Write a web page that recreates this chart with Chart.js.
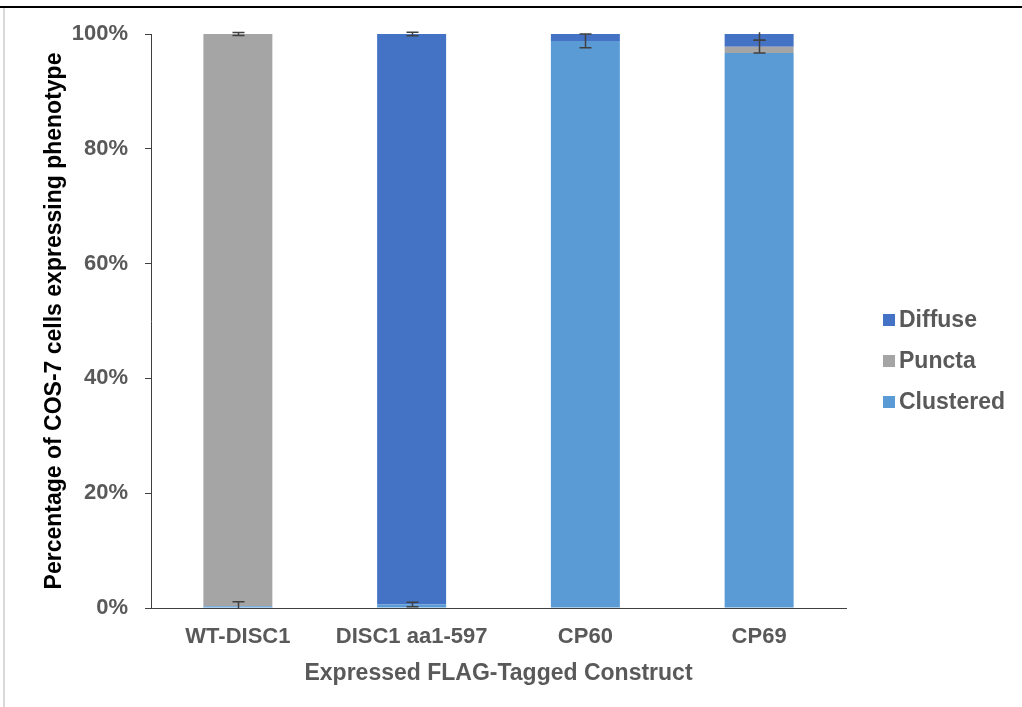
<!DOCTYPE html>
<html>
<head>
<meta charset="utf-8">
<script src="https://cdn.jsdelivr.net/npm/chart.js@4.4.0/dist/chart.umd.min.js"></script>
<style>
  html, body { margin: 0; padding: 0; background: #ffffff; overflow: hidden; }
  #wrap { width: 1022px; height: 707px; position: relative; }
  canvas { display: block; }
</style>
</head>
<body>
<div id="wrap"><canvas id="chart" width="1022" height="707"></canvas></div>
<script>
// Constructs on the x axis
const categories = ['WT-DISC1', 'DISC1 aa1-597', 'CP60', 'CP69'];

// Phenotype percentages per construct (stacked bottom to top)
const clustered = [0.3, 0.6, 98.8, 96.7];
const puncta    = [99.7, 0, 0, 1.1];
const diffuse   = [0, 99.4, 1.2, 2.2];

// Error magnitudes (percentage points), drawn at the top of each segment
const clusteredErr = [0.8, 0.4, 1.2, 0];
const punctaErr    = [0.25, 0, 0, 1.1];
const diffuseErr   = [0, 0.3, 0, 1.1];

// Y axis tick values
const yTicks = [0, 20, 40, 60, 80, 100];

const seriesNames = ['Clustered', 'Puncta', 'Diffuse'];
const seriesColors = ['#5B9BD5', '#A5A5A5', '#4472C4'];
const seriesErrors = [clusteredErr, punctaErr, diffuseErr];

const FONT = "'Liberation Sans', Arial, sans-serif";
const GREY_TEXT = '#595959';
const AXIS_COLOR = '#404040';

// White page, black rule across the top, faint rule down the left side
const framePlugin = {
  id: 'frame',
  beforeDraw(chart) {
    const ctx = chart.ctx;
    ctx.save();
    ctx.fillStyle = '#ffffff';
    ctx.fillRect(0, 0, chart.width, chart.height);
    ctx.strokeStyle = '#000000';
    ctx.lineWidth = 2;
    ctx.beginPath();
    ctx.moveTo(0, 7);
    ctx.lineTo(chart.width, 7);
    ctx.stroke();
    ctx.strokeStyle = '#d9d9d9';
    ctx.lineWidth = 2;
    ctx.beginPath();
    ctx.moveTo(4, 8);
    ctx.lineTo(4, chart.height);
    ctx.stroke();
    ctx.restore();
  }
};

// Error bars centred on the cumulative top of each stacked segment
const errorBarPlugin = {
  id: 'errorBars',
  afterDatasetsDraw(chart) {
    const ctx = chart.ctx;
    const yScale = chart.scales.y;
    const datasets = chart.data.datasets;
    const capHalf = 6;
    const upperLimit = 100.3;
    ctx.save();
    ctx.strokeStyle = AXIS_COLOR;
    ctx.lineWidth = 1.5;
    seriesErrors.forEach((errs, di) => {
      const meta = chart.getDatasetMeta(di);
      errs.forEach((err, i) => {
        if (!err) return;
        let cum = 0;
        for (let k = 0; k <= di; k++) cum += datasets[k].data[i];
        let lo = cum - err, hi = cum + err;
        const loCap = lo >= 0, hiCap = hi <= upperLimit;
        lo = Math.max(lo, 0);
        hi = Math.min(hi, upperLimit);
        const x = Math.round(meta.data[i].x) + 0.5;
        const yLo = yScale.getPixelForValue(lo);
        const yHi = yScale.getPixelForValue(hi);
        ctx.beginPath();
        ctx.moveTo(x, yLo);
        ctx.lineTo(x, yHi);
        if (loCap) { ctx.moveTo(x - capHalf, yLo); ctx.lineTo(x + capHalf, yLo); }
        if (hiCap) { ctx.moveTo(x - capHalf, yHi); ctx.lineTo(x + capHalf, yHi); }
        ctx.stroke();
      });
    });
    ctx.restore();
  }
};

// Legend to the right of the plot, listed top-down in stack order
const sideLegendPlugin = {
  id: 'sideLegend',
  afterDraw(chart) {
    const ctx = chart.ctx;
    const ds = chart.data.datasets;
    const rowsY = [320, 361, 402];
    ctx.save();
    ctx.font = 'bold 23px ' + FONT;
    ctx.textBaseline = 'middle';
    ctx.textAlign = 'left';
    for (let r = 0; r < ds.length; r++) {
      const d = ds[ds.length - 1 - r];
      const y = rowsY[r];
      ctx.fillStyle = d.backgroundColor;
      ctx.fillRect(883, y - 6, 12, 12);
      ctx.fillStyle = GREY_TEXT;
      ctx.fillText(d.label, 899, y + 1);
    }
    ctx.restore();
  }
};

const seriesValues = [clustered, puncta, diffuse];

new Chart(document.getElementById('chart'), {
  type: 'bar',
  data: {
    labels: categories,
    datasets: seriesNames.map((name, i) => ({
      label: name,
      data: seriesValues[i],
      backgroundColor: seriesColors[i],
      borderWidth: 0,
      categoryPercentage: 1.0,
      barPercentage: 0.397
    }))
  },
  options: {
    responsive: false,
    animation: false,
    devicePixelRatio: 1,
    layout: { padding: { top: 34, right: 176, bottom: 0, left: 0 } },
    plugins: {
      legend: { display: false },
      tooltip: { enabled: false },
      title: { display: false }
    },
    scales: {
      x: {
        stacked: true,
        grid: { display: false, drawTicks: false },
        border: { display: true, color: AXIS_COLOR, width: 1 },
        ticks: {
          color: GREY_TEXT,
          font: { family: FONT, size: 22, weight: 'bold' },
          padding: 16,
          maxRotation: 0,
          autoSkip: false
        },
        title: {
          display: true,
          text: 'Expressed FLAG-Tagged Construct',
          color: GREY_TEXT,
          font: { family: FONT, size: 23, weight: 'bold' },
          padding: { top: 0, bottom: 20 }
        },
        afterFit(scale) { scale.height = 99; }
      },
      y: {
        stacked: true,
        min: 0,
        max: 100,
        afterBuildTicks(scale) { scale.ticks = yTicks.map(v => ({ value: v })); },
        grid: {
          display: true,
          drawOnChartArea: false,
          drawTicks: true,
          tickLength: 6,
          color: AXIS_COLOR,
          lineWidth: 1
        },
        border: { display: true, color: AXIS_COLOR, width: 1 },
        ticks: {
          color: GREY_TEXT,
          font: { family: FONT, size: 22, weight: 'bold' },
          padding: 17,
          callback: v => v + '%'
        },
        title: {
          display: true,
          text: 'Percentage of COS-7 cells expressing phenotype',
          color: '#000000',
          font: { family: FONT, size: 23, weight: 'bold' },
          padding: { top: 41, bottom: 0 }
        },
        afterFit(scale) { scale.width = 151; }
      }
    }
  },
  plugins: [framePlugin, errorBarPlugin, sideLegendPlugin]
});
</script>
</body>
</html>
